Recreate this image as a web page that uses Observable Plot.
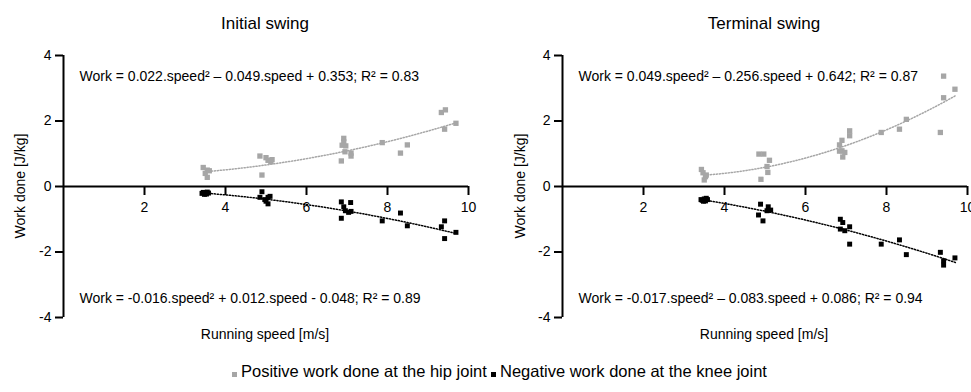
<!DOCTYPE html>
<html><head><meta charset="utf-8">
<script src="https://cdn.jsdelivr.net/npm/d3@7"></script>
<script src="https://cdn.jsdelivr.net/npm/@observablehq/plot@0.6"></script>
<style>
body{margin:0;background:#fff;}
#wrap{position:relative;width:971px;height:392px;overflow:hidden;font-family:"Liberation Sans",Arial,sans-serif;color:#000;}
.abs{position:absolute;white-space:nowrap;line-height:1;}
.plot{position:absolute;top:30px;}
</style></head><body><div id="wrap"></div>
<script>
// ---- data (speed [m/s], work [J/kg]) ----
const initialHip = [
  [3.45,0.58],[3.55,0.50],[3.50,0.40],[3.55,0.28],[3.60,0.48],
  [4.85,0.93],[5.00,0.88],[5.05,0.80],[5.12,0.76],[4.90,0.35],[5.15,0.82],
  [6.92,1.47],[6.88,1.26],[6.97,1.24],[6.95,1.06],[6.86,0.78],[7.10,1.02],[7.10,0.93],[6.92,1.36],
  [7.87,1.34],[8.32,1.02],[8.49,1.27],[9.33,2.26],[9.43,2.34],[9.41,1.75],[9.69,1.93]
];
const initialKnee = [
  [3.45,-0.18],[3.50,-0.21],[3.55,-0.17],[3.48,-0.24],[3.53,-0.23],[3.42,-0.21],[3.58,-0.20],
  [4.90,-0.16],[4.85,-0.33],[4.97,-0.40],[5.05,-0.33],[5.10,-0.30],[5.05,-0.53],[5.00,-0.45],
  [6.86,-0.47],[7.09,-0.49],[6.92,-0.62],[6.96,-0.74],[7.04,-0.79],[6.86,-0.97],[7.10,-0.76],
  [7.87,-1.05],[8.32,-0.81],[8.49,-1.20],[9.33,-1.23],[9.41,-1.05],[9.41,-1.59],[9.69,-1.40]
];
const terminalHip = [
  [3.43,0.52],[3.47,0.42],[3.53,0.30],[3.50,0.20],[3.55,0.35],
  [4.85,0.99],[4.97,0.99],[5.11,0.80],[5.05,0.61],[5.07,0.43],[4.90,0.22],
  [6.90,1.41],[6.84,1.27],[6.90,1.09],[6.97,1.04],[6.92,0.90],[7.09,1.70],[7.09,1.55],[6.84,1.08],
  [7.87,1.65],[8.32,1.75],[8.49,2.05],[9.41,3.37],[9.41,2.71],[9.33,1.65],[9.69,2.97]
];
const terminalKnee = [
  [3.45,-0.42],[3.50,-0.38],[3.55,-0.36],[3.48,-0.45],[3.53,-0.44],[3.42,-0.40],[3.58,-0.40],
  [4.89,-0.54],[4.84,-0.87],[4.95,-1.05],[5.08,-0.62],[5.05,-0.74],[5.14,-0.72],
  [6.86,-1.00],[6.92,-1.10],[6.86,-1.30],[6.97,-1.35],[7.09,-1.23],[7.09,-1.76],
  [7.87,-1.76],[8.32,-1.63],[8.49,-2.08],[9.33,-2.01],[9.41,-2.27],[9.41,-2.40],[9.69,-2.18]
];
// quadratic fit coefficients [a, b, c] : work = a*speed^2 + b*speed + c
const initialHipFit = [0.022, -0.049, 0.353];
const initialKneeFit = [-0.016, 0.012, -0.048];
const terminalHipFit = [0.049, -0.256, 0.642];
const terminalKneeFit = [-0.017, -0.083, 0.086];
const fitRange = [3.5, 9.7];
const xTicks = [2, 4, 6, 8, 10];
const yTicks = [-4, -2, 0, 2, 4];
const titles = ["Initial swing", "Terminal swing"];
const eqTop = ["Work = 0.022.speed\u00b2 \u2013 0.049.speed + 0.353; R\u00b2 = 0.83",
               "Work = 0.049.speed\u00b2 \u2013 0.256.speed + 0.642; R\u00b2 = 0.87"];
const eqBottom = ["Work = -0.016.speed\u00b2 + 0.012.speed - 0.048; R\u00b2 = 0.89",
                  "Work = -0.017.speed\u00b2 \u2013 0.083.speed + 0.086; R\u00b2 = 0.94"];
const legendLabels = ["Positive work done at the hip joint", "Negative work done at the knee joint"];
const xLabel = "Running speed [m/s]";
const yLabel = "Work done [J/kg]";

const GRAY = "#a6a6a6";
const FONT = '"Liberation Sans", Arial, sans-serif';

function curve(coef) {
  return d3.range(fitRange[0], fitRange[1] + 1e-9, 0.05).map(s => ({s, w: coef[0]*s*s + coef[1]*s + coef[2]}));
}

function panel({pos, neg, posFit, negFit, top, bottom, width, marginLeft, marginRight}) {
  return Plot.plot({
    width, height: 310, marginLeft, marginRight, marginTop: 25, marginBottom: 23,
    x: {domain: [0, 10], axis: null},
    y: {domain: [-4, 4], axis: null},
    style: {fontFamily: FONT, background: "transparent", overflow: "visible", color: "#000"},
    marks: [
      Plot.axisY({ticks: yTicks, tickSize: 8, tickPadding: 4, strokeWidth: 2, label: null, fontSize: 14, tickFormat: d => String(d)}),
      Plot.ruleX([0], {strokeWidth: 2}),
      Plot.ruleY([0], {strokeWidth: 2}),
      Plot.ruleX(xTicks, {x: d => d, y1: 0, y2: 0, insetBottom: -9, strokeWidth: 2}),
      Plot.text(xTicks, {x: d => d, y: 0, dy: 21, text: d => String(d), fontSize: 14}),
      Plot.line(curve(posFit), {x: "s", y: "w", stroke: GRAY, strokeWidth: 1.5, strokeDasharray: "1.2,1.8"}),
      Plot.line(curve(negFit), {x: "s", y: "w", stroke: "#000", strokeWidth: 1.5, strokeDasharray: "1.2,1.8"}),
      Plot.dot(pos, {x: d => d[0], y: d => d[1], symbol: "square", r: 3, fill: GRAY}),
      Plot.dot(neg, {x: d => d[0], y: d => d[1], symbol: "square", r: 2.8, fill: "#000"}),
      Plot.text([top], {text: d => d, frameAnchor: "top-left", dx: 16, dy: 21, textAnchor: "start", lineAnchor: "middle", fontSize: 14}),
      Plot.text([bottom], {text: d => d, frameAnchor: "bottom-left", dx: 16, dy: -19, textAnchor: "start", lineAnchor: "middle", fontSize: 14})
    ]
  });
}

const wrap = document.getElementById("wrap");
const p1 = panel({pos: initialHip, neg: initialKnee, posFit: initialHipFit, negFit: initialKneeFit,
  top: eqTop[0], bottom: eqBottom[0], width: 485, marginLeft: 63, marginRight: 17});
p1.classList.add("plot"); p1.style.left = "0px";
const p2 = panel({pos: terminalHip, neg: terminalKnee, posFit: terminalHipFit, negFit: terminalKneeFit,
  top: eqTop[1], bottom: eqBottom[1], width: 486, marginLeft: 77, marginRight: 4});
p2.classList.add("plot"); p2.style.left = "485px";
wrap.append(p1, p2);

function addText(txt, x, y, size, extra = "") {
  const d = document.createElement("div");
  d.className = "abs";
  d.textContent = txt;
  d.style.cssText += `left:${x}px;top:${y}px;font-size:${size}px;transform:translate(-50%,-50%) ${extra};`;
  wrap.append(d);
  return d;
}
addText(titles[0], 265, 23, 17);
addText(titles[1], 764, 23, 17);
addText(yLabel, 20, 186, 14, "rotate(-90deg)");
addText(yLabel, 520, 186, 14, "rotate(-90deg)");
addText(xLabel, 265, 334, 14);
addText(xLabel, 764, 334, 14);

// legend
const legendColors = [GRAY, "#000"];
const legendX = [232, 491];
legendLabels.forEach((lab, i) => {
  const item = document.createElement("div");
  item.className = "abs";
  item.style.cssText += `left:${legendX[i]}px;top:363px;font-size:16.5px;display:flex;align-items:baseline;`;
  const sw = document.createElement("span");
  sw.style.cssText = `display:inline-block;width:5px;height:5px;background:${legendColors[i]};margin-right:4px;`;
  const t = document.createElement("span");
  t.textContent = lab;
  item.append(sw, t);
  wrap.append(item);
});
</script>
</body></html>
